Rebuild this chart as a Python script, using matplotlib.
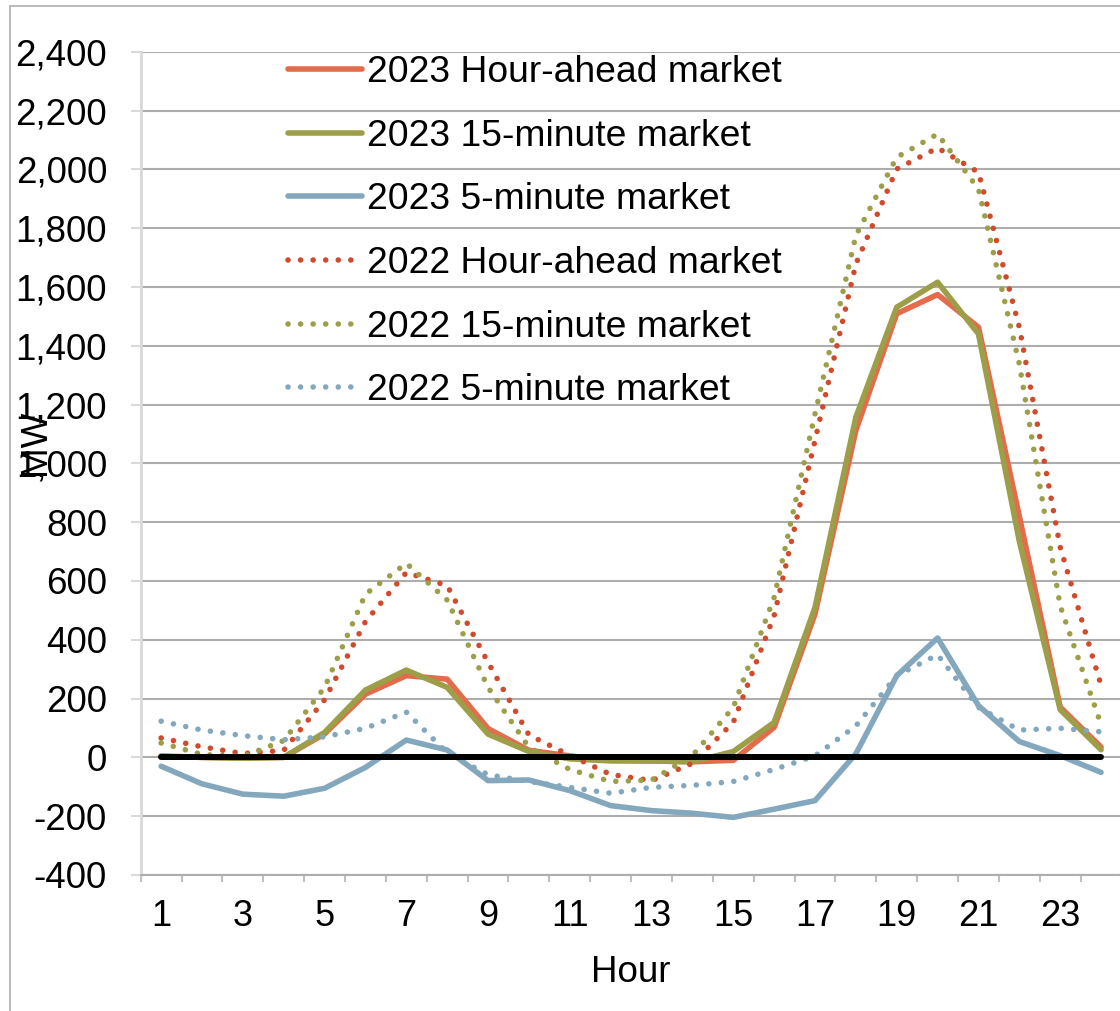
import numpy as np
import matplotlib
matplotlib.use("Agg")
import matplotlib.pyplot as plt
from matplotlib.patches import Rectangle

plt.rcParams['font.family'] = ['Liberation Sans', 'DejaVu Sans']

hours = list(range(1, 25))

ha_2023 = [5, 0, -2, 0, 80, 215, 278, 266, 98, 24, 5, -10, -12, -15, -10, 102, 487,
           1112, 1509, 1574, 1463, 820, 171, 35]
fm15_2023 = [3, 0, -3, 0, 85, 229, 297, 238, 79, 20, -5, -12, -12, -15, 20, 119, 510,
             1157, 1531, 1616, 1440, 735, 162, 26]
fm5_2023 = [-30, -90, -125, -132, -105, -34, 59, 25, -79, -77, -113, -164, -181, -190,
            -204, -176, -147, 12, 278, 406, 176, 54, 6, -51]
ha_2022 = [66, 36, 13, 24, 196, 462, 629, 584, 323, 76, 7, -58, -79, -20, 119, 482,
           1078, 1678, 2001, 2073, 1990, 1463, 715, 245]
fm15_2022 = [49, 10, 3, 57, 238, 555, 660, 535, 238, 34, -41, -82, -77, 6, 170, 544,
             1168, 1775, 2041, 2120, 1933, 1338, 515, 112]
fm5_2022 = [123, 93, 74, 60, 70, 99, 154, 15, -59, -82, -102, -122, -102, -95, -82,
            -41, 5, 107, 278, 349, 170, 93, 99, 87]
zero_line = [0] * 24

labels = ["2023 Hour-ahead market", "2023 15-minute market", "2023 5-minute market",
          "2022 Hour-ahead market", "2022 15-minute market", "2022 5-minute market"]
c_orange = "#E46B4B"
c_red = "#D04A2B"
c_olive = "#9D9E48"
c_blue = "#83A8BD"

W, H = 1120, 1011
fig = plt.figure(figsize=(W / 100, H / 100), dpi=100)
fig.patch.set_facecolor("white")

# outer chart frame
fig.add_artist(Rectangle((10 / W, -0.1), 1.2, (1 - 6 / H) + 0.1,
                         transform=fig.transFigure, fill=False,
                         ec="#B4B4B4", lw=1.3))

left, right, top, bottom = 140.7, 1121.5, 51.7, 875
ax = fig.add_axes([left / W, 1 - bottom / H, (right - left) / W, (bottom - top) / H])

lw = 4.0
dot = (0, (0.01, 2.25))
ax.plot(hours, ha_2023, color=c_orange, lw=lw, solid_capstyle="round",
        solid_joinstyle="round", label=labels[0])
ax.plot(hours, fm15_2023, color=c_olive, lw=lw, solid_capstyle="round",
        solid_joinstyle="round", label=labels[1])
ax.plot(hours, fm5_2023, color=c_blue, lw=lw, solid_capstyle="round",
        solid_joinstyle="round", label=labels[2])
ax.plot(hours, ha_2022, color=c_red, lw=lw, ls=dot, dash_capstyle="round",
        label=labels[3])
ax.plot(hours, fm15_2022, color=c_olive, lw=lw, ls=dot, dash_capstyle="round",
        label=labels[4])
ax.plot(hours, fm5_2022, color=c_blue, lw=lw, ls=dot, dash_capstyle="round",
        label=labels[5])
ax.plot(hours, zero_line, color="black", lw=4.3, solid_capstyle="round", zorder=5)

ax.set_xlim(0.5, 24.5)
ax.set_ylim(-400, 2400)

yt = list(range(-400, 2401, 200))
ax.set_yticks(yt)
ax.set_yticklabels([f"{v:,}" for v in yt])
ax.tick_params(axis="y", length=7.2, width=1.5, color="#D9D9D9", pad=17,
               labelsize=26.5)

ax.set_xticks(list(range(1, 24, 2)))
ax.set_xticklabels([str(h) for h in range(1, 24, 2)])
ax.set_xticks(np.arange(0.5, 24.6, 1), minor=True)
ax.tick_params(axis="x", which="major", length=0, pad=17, labelsize=26)
ax.tick_params(axis="x", which="minor", length=5, width=1.5, color="#BFBFBF",
               direction="out")

ax.yaxis.grid(True, color="#ADADAD", lw=1.5)
ax.set_axisbelow(True)
for s in ("top", "right"):
    ax.spines[s].set_visible(False)
ax.spines["left"].set_color("#D9D9D9")
ax.spines["left"].set_linewidth(2)
ax.spines["bottom"].set_color("#ADADAD")
ax.spines["bottom"].set_linewidth(1.5)

ax.legend(loc="upper left", bbox_to_anchor=(288.5 / W, 1 - 55 / H),
          bbox_transform=fig.transFigure, frameon=False, fontsize=26.8,
          handlelength=1.97, handletextpad=0.15, labelspacing=0.77,
          borderpad=0, borderaxespad=0)

fig.text(35 / W, 1 - 442 / H, "MW", rotation=90, fontsize=26.5,
         ha="center", va="center")
fig.text(631 / W, (H - 982) / H, "Hour", fontsize=26.5, ha="center", va="baseline")

fig.savefig("out.png", dpi=100)
